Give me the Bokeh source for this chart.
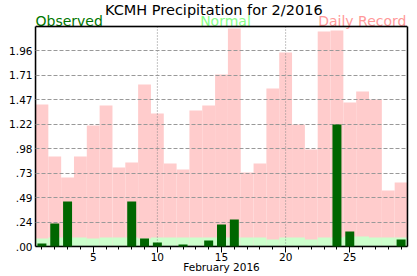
from bokeh.plotting import figure
from bokeh.models import FixedTicker, Range1d, BoxAnnotation, Span
from bokeh.embed import file_html
from bokeh.resources import INLINE
from bokeh.core.properties import value

days = list(range(1, 30))
record = [1.42, 0.90, 0.69, 0.90, 1.21, 1.41, 0.79, 0.84, 1.62, 1.33,
          0.83, 0.77, 1.36, 1.41, 1.72, 2.18, 0.74, 0.83, 1.58, 1.94,
          1.22, 0.97, 2.15, 2.16, 1.44, 1.55, 1.47, 0.56, 0.64]
normal = [0.08, 0.09, 0.09, 0.09, 0.08, 0.09, 0.09, 0.09, 0.08, 0.09,
          0.09, 0.09, 0.09, 0.09, 0.09, 0.09, 0.09, 0.09, 0.07, 0.09,
          0.09, 0.07, 0.09, 0.09, 0.10, 0.10, 0.09, 0.09, 0.09]
observed = [0.03, 0.23, 0.45, 0.0, 0.0, 0.0, 0.0, 0.45, 0.08, 0.04,
            0.0, 0.02, 0.0, 0.06, 0.22, 0.27, 0.0, 0.0, 0.0, 0.0,
            0.0, 0.0, 0.0, 1.22, 0.15, 0.0, 0.0, 0.0, 0.07]
ytick_vals = [0, 0.245, 0.49, 0.735, 0.98, 1.225, 1.47, 1.715, 1.96]
ytick_labels = [".00", ".24", ".49", ".73", ".98", "1.22", "1.47", "1.71", "1.96"]
xtick_major = [5, 10, 15, 20, 25]
xgrid_vals = [10, 20]
title_text = "KCMH Precipitation for 2/2016"
legend_labels = ["Observed", "Normal", "Daily Record"]
xlabel_text = "February 2016"

FONT = "DejaVu Sans"
X0, X1 = 0.5, 29.5     # x extent of plot box
YTOP = 2.2             # top of plot box
YCANVAS = 2.46         # range top (header band lives above YTOP)

p = figure(width=417, height=276, output_backend="svg", toolbar_location=None,
           x_range=Range1d(X0, X1), y_range=Range1d(0, YCANVAS),
           min_border_left=35, min_border_right=10, min_border_top=0,
           min_border_bottom=30, title=None)
p.background_fill_color = "white"
p.border_fill_color = "white"
p.outline_line_color = None

p.vbar(x=days, top=record, width=1.0, fill_color="#ffcccc", line_color=None)
p.vbar(x=days, top=normal, width=1.0, fill_color="#ccffcc", line_color=None)

# vertical dotted grid lines, limited to the plot box
vg = p.segment(x0=xgrid_vals, y0=[0] * len(xgrid_vals), x1=xgrid_vals,
               y1=[YTOP] * len(xgrid_vals), line_color="#888888",
               line_dash="1 2", line_width=1)

obs = p.vbar(x=days, top=observed, width=0.7, fill_color="#006600", line_color=None)
obs.level = "annotation"

# axes
p.xaxis.ticker = FixedTicker(ticks=xtick_major, minor_ticks=days)
p.xaxis.major_tick_out = 6
p.xaxis.major_tick_in = 0
p.xaxis.minor_tick_out = 3
p.xaxis.minor_tick_in = 0
p.xaxis.major_tick_line_color = "black"
p.xaxis.minor_tick_line_color = "black"
p.xaxis.major_label_standoff = 0
p.xaxis.major_label_text_font = FONT
p.xaxis.major_label_text_font_size = "10.5px"
p.xaxis.major_label_text_color = "black"
p.xaxis.axis_label = xlabel_text
p.xaxis.axis_label_standoff = -3
p.xaxis.axis_label_text_font = FONT
p.xaxis.axis_label_text_font_size = "10.5px"
p.xaxis.axis_label_text_font_style = "normal"
p.xaxis.axis_label_text_color = "black"
p.xaxis.axis_line_color = "black"
p.xaxis.axis_line_width = 1.5

p.yaxis.ticker = FixedTicker(ticks=ytick_vals)
p.yaxis.bounds = (0, YTOP)
p.yaxis.major_label_overrides = {v: l for v, l in zip(ytick_vals, ytick_labels)}
p.yaxis.major_tick_out = 0
p.yaxis.major_tick_in = 0
p.yaxis.minor_tick_out = 0
p.yaxis.minor_tick_in = 0
p.yaxis.major_label_standoff = 3
p.yaxis.major_label_text_font = FONT
p.yaxis.major_label_text_font_size = "10.5px"
p.yaxis.major_label_text_color = "black"
p.yaxis.axis_line_color = "black"
p.yaxis.axis_line_width = 1.5

# horizontal dashed grid
p.xgrid.visible = False
p.ygrid.ticker = FixedTicker(ticks=ytick_vals[1:])
p.ygrid.grid_line_color = "#999999"
p.ygrid.grid_line_dash = "4 2"
p.ygrid.grid_line_width = 1
p.ygrid.level = "guide"

# plot box outline: top line and right edge
p.add_layout(Span(location=YTOP, dimension="width", line_color="black",
                  line_width=1.5, level="overlay"))
p.add_layout(BoxAnnotation(left=X0, right=X1, bottom=0, top=YTOP,
                           fill_alpha=0.0, line_color="black", line_width=1.5,
                           level="overlay"))
edge = p.segment(x0=[X1], y0=[0], x1=[X1], y1=[YTOP], line_color="black",
                 line_width=1.5)
edge.level = "overlay"

# header texts
xmid = (X0 + X1) / 2
t1 = p.text(x=[xmid - 0.6], y=[2.37], text=[title_text], text_align="center",
            text_baseline="alphabetic", text_font=value(FONT),
            text_font_size="14.5px", text_color="black")
t2 = p.text(x=[X0], y=[2.26], text=[legend_labels[0]], text_align="left",
            text_baseline="alphabetic", text_font=value(FONT),
            text_font_size="14px", text_color="#007700")
t3 = p.text(x=[15.31], y=[2.26], text=[legend_labels[1]], text_align="center",
            text_baseline="alphabetic", text_font=value(FONT),
            text_font_size="14px", text_color="#88ff88")
t4 = p.text(x=[X1 - 0.08], y=[2.26], text=[legend_labels[2]], text_align="right",
            text_baseline="alphabetic", text_font=value(FONT),
            text_font_size="14px", text_color="#ff9999")
for t in (t1, t2, t3, t4):
    t.level = "overlay"

open("out.html", "w").write(file_html(p, INLINE))
